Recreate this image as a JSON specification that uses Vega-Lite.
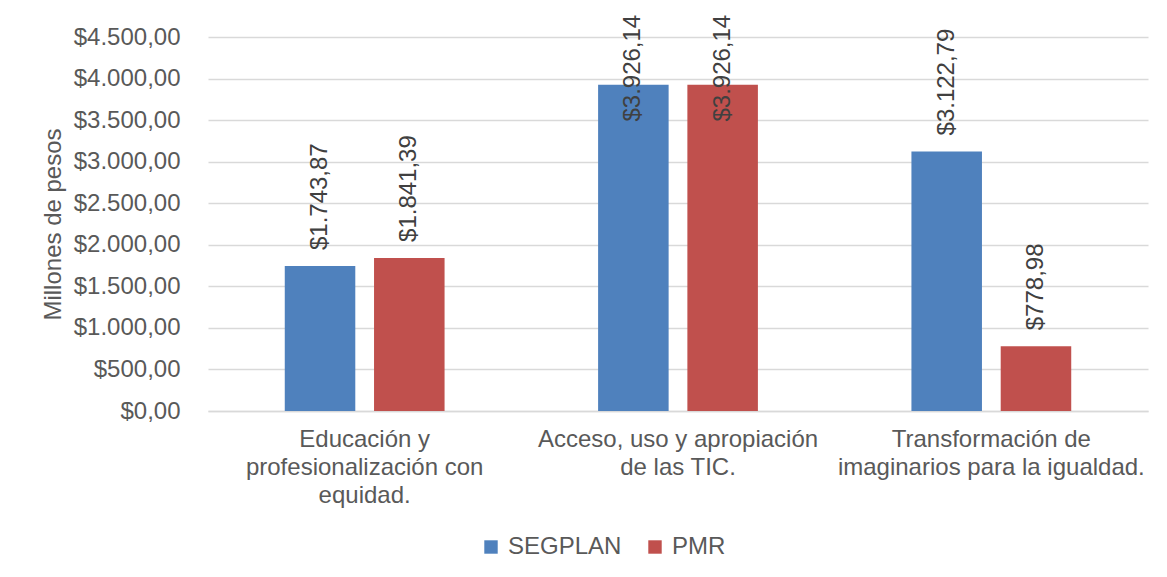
{
  "$schema": "https://vega.github.io/schema/vega-lite/v6.json",
  "width": 940,
  "height": 374,
  "autosize": {"type": "none"},
  "padding": {"left": 208, "top": 37, "right": 19, "bottom": 166},
  "background": "white",
  "config": {
    "locale": {"number": {"decimal": ",", "thousands": ".", "grouping": [3], "currency": ["$", ""]}},
    "view": {"stroke": null},
    "font": "Liberation Sans",
    "axis": {"labelFont": "Liberation Sans", "titleFont": "Liberation Sans"}
  },
  "data": {
    "values": [
      {"categoria": "Educación y profesionalización con equidad.", "fuente": "SEGPLAN", "valor": 1743.87},
      {"categoria": "Educación y profesionalización con equidad.", "fuente": "PMR", "valor": 1841.39},
      {"categoria": "Acceso, uso y apropiación de las TIC.", "fuente": "SEGPLAN", "valor": 3926.14},
      {"categoria": "Acceso, uso y apropiación de las TIC.", "fuente": "PMR", "valor": 3926.14},
      {"categoria": "Transformación de imaginarios para la igualdad.", "fuente": "SEGPLAN", "valor": 3122.79},
      {"categoria": "Transformación de imaginarios para la igualdad.", "fuente": "PMR", "valor": 778.98}
    ]
  },
  "encoding": {
    "x": {
      "field": "categoria",
      "type": "nominal",
      "sort": null,
      "scale": {"paddingInner": 0.49, "paddingOuter": 0.245},
      "axis": {
        "title": null,
        "labelAngle": 0,
        "labelFontSize": 24,
        "labelColor": "#595959",
        "labelPadding": 16,
        "labelLineHeight": 28,
        "labelBaseline": "top",
        "labelLimit": 0,
        "domainColor": "#D9D9D9",
        "domainWidth": 1.5,
        "ticks": false,
        "tickSize": 0,
        "labelExpr": "datum.value == 'Educación y profesionalización con equidad.' ? ['Educación y', 'profesionalización con', 'equidad.'] : datum.value == 'Acceso, uso y apropiación de las TIC.' ? ['Acceso, uso y apropiación', 'de las TIC.'] : ['Transformación de', 'imaginarios para la igualdad.']"
      }
    },
    "xOffset": {
      "field": "fuente",
      "type": "nominal",
      "sort": ["SEGPLAN", "PMR"],
      "scale": {"paddingInner": 0.21, "paddingOuter": 0}
    }
  },
  "layer": [
    {
      "mark": {"type": "bar"},
      "encoding": {
        "y": {
          "field": "valor",
          "type": "quantitative",
          "scale": {"domain": [0, 4500]},
          "axis": {
            "title": "Millones de pesos",
            "titleFontSize": 24,
            "titleFontWeight": "normal",
            "titleColor": "#595959",
            "titlePadding": 8,
            "format": "$,.2f",
            "values": [0, 500, 1000, 1500, 2000, 2500, 3000, 3500, 4000, 4500],
            "labelFontSize": 24,
            "labelColor": "#595959",
            "labelPadding": 28,
            "tickSize": 0,
            "ticks": false,
            "domain": false,
            "gridColor": "#D9D9D9",
            "gridWidth": 1.5
          }
        },
        "color": {
          "field": "fuente",
          "type": "nominal",
          "sort": ["SEGPLAN", "PMR"],
          "scale": {"domain": ["SEGPLAN", "PMR"], "range": ["#4F81BD", "#C0504D"]},
          "legend": {
            "title": null,
            "orient": "none",
            "direction": "horizontal",
            "legendX": 271,
            "legendY": 498,
            "symbolType": "square",
            "symbolSize": 180,
            "symbolStrokeWidth": 0,
            "labelFontSize": 24,
            "labelColor": "#595959",
            "labelOffset": 5,
            "columnPadding": 21
          }
        }
      }
    },
    {
      "transform": [{"calculate": "min(datum.valor, 3290)", "as": "pos"}],
      "mark": {"type": "text", "angle": 270, "align": "left", "baseline": "middle", "dx": 16, "fontSize": 24, "color": "#404040"},
      "encoding": {
        "y": {"field": "pos", "type": "quantitative"},
        "text": {"field": "valor", "type": "quantitative", "format": "$,.2f"}
      }
    }
  ]
}
